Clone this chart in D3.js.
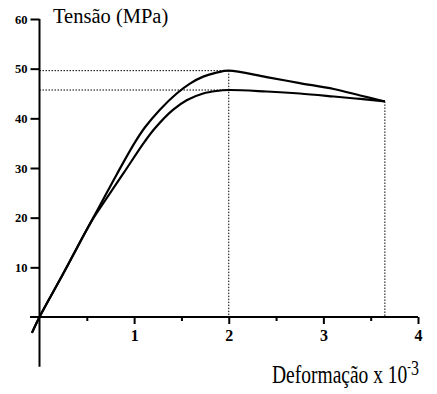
<!DOCTYPE html>
<html>
<head>
<meta charset="utf-8">
<script src="https://cdn.jsdelivr.net/npm/d3@7"></script>
<style>
  body { margin: 0; background: #fff; }
  svg { display: block; }
  svg text { font-family: "Liberation Serif", "Times New Roman", "DejaVu Serif", serif; }
</style>
</head>
<body>
<div id="chart"></div>
<script>
// Strain (x 10^-3) and stress (MPa)
const strainUpper = [-0.08, 0, 0.25, 0.48, 0.64, 0.816, 1.01, 1.115, 1.27, 1.45, 1.59, 1.73, 1.87, 2.0, 2.4, 2.75, 3.11, 3.39, 3.65];
const stressUpper = [-3.2, 0, 8.7, 16.9, 22.5, 28.7, 35.2, 38.2, 41.7, 45.0, 47.0, 48.4, 49.2, 49.6, 48.3, 47.1, 45.9, 44.6, 43.4];

const strainLower = [-0.08, 0, 0.25, 0.48, 0.56, 0.674, 0.886, 1.115, 1.22, 1.41, 1.56, 1.73, 1.87, 2.0, 2.4, 2.75, 3.11, 3.39, 3.65];
const stressLower = [-3.2, 0, 8.7, 16.9, 19.6, 22.9, 28.9, 35.4, 38.0, 41.7, 43.7, 45.0, 45.5, 45.7, 45.4, 45.0, 44.4, 43.9, 43.4];

// Reference (dotted) guide values
const peakStrain = 2.0;
const peakUpper = 49.6;
const peakLower = 45.7;
const endStrain = 3.65;
const endStress = 43.4;

const xTicks = [1, 2, 3, 4];
const xMinorTicks = [0.5, 1.5, 2.5, 3.5];
const yTicks = [10, 20, 30, 40, 50, 60];

const width = 437, height = 394;

const svg = d3.select("#chart")
    .append("svg")
    .attr("width", width)
    .attr("height", height);

// Scales
const x = d3.scaleLinear().domain([0, 4]).range([39.5, 418]);
const y = d3.scaleLinear().domain([0, 60]).range([317, 19]);

const black = "#000";
const serif = "'Liberation Serif', 'Times New Roman', 'DejaVu Serif', serif";

// Dotted guide lines
const guides = svg.append("g")
    .attr("stroke", black)
    .attr("stroke-width", 1)
    .attr("stroke-dasharray", "1.5,1.5")
    .attr("fill", "none");

guides.append("line")
    .attr("x1", x(0)).attr("x2", x(peakStrain))
    .attr("y1", y(peakUpper)).attr("y2", y(peakUpper));
guides.append("line")
    .attr("x1", x(0)).attr("x2", x(peakStrain))
    .attr("y1", y(peakLower)).attr("y2", y(peakLower));
guides.append("line")
    .attr("x1", x(peakStrain)).attr("x2", x(peakStrain))
    .attr("y1", y(peakUpper)).attr("y2", y(0));
guides.append("line")
    .attr("x1", x(endStrain)).attr("x2", x(endStrain))
    .attr("y1", y(endStress)).attr("y2", y(0));

// Axis lines
svg.append("line")
    .attr("x1", x(0)).attr("x2", x(0))
    .attr("y1", y(60)).attr("y2", y(-10))
    .attr("stroke", black).attr("stroke-width", 2);
svg.append("line")
    .attr("x1", x(-0.1)).attr("x2", x(4))
    .attr("y1", y(0)).attr("y2", y(0))
    .attr("stroke", black).attr("stroke-width", 2);

// Y axis ticks
const yAxis = svg.append("g")
    .attr("transform", `translate(${x(0)}, 0)`)
    .call(d3.axisLeft(y).tickValues(yTicks).tickSize(9).tickPadding(3));
yAxis.attr("font-family", serif);
yAxis.select(".domain").remove();
yAxis.selectAll(".tick line").attr("stroke-width", 2);
yAxis.selectAll(".tick text")
    .attr("font-weight", "bold")
    .attr("font-size", "12.5px")
    .attr("fill", black);

// X axis ticks
const xAxis = svg.append("g")
    .attr("transform", `translate(0, ${y(0)})`)
    .call(d3.axisBottom(x).tickValues(xTicks).tickFormat(d3.format("d")).tickSize(7).tickPadding(6));
xAxis.attr("font-family", serif);
xAxis.select(".domain").remove();
xAxis.selectAll(".tick line").attr("stroke-width", 2);
xAxis.selectAll(".tick text")
    .attr("font-weight", "bold")
    .attr("font-size", "16px")
    .attr("fill", black);

const xMinor = svg.append("g")
    .attr("transform", `translate(0, ${y(0)})`)
    .call(d3.axisBottom(x).tickValues(xMinorTicks).tickSize(4).tickFormat(""));
xMinor.select(".domain").remove();
xMinor.selectAll(".tick line").attr("stroke-width", 2);

// Curves
const line = d3.line()
    .x(d => x(d[0]))
    .y(d => y(d[1]))
    .curve(d3.curveCatmullRom.alpha(0.5));

const upper = strainUpper.map((s, i) => [s, stressUpper[i]]);
const lower = strainLower.map((s, i) => [s, stressLower[i]]);

svg.selectAll(".curve")
    .data([upper, lower])
    .enter()
    .append("path")
    .attr("class", "curve")
    .attr("d", line)
    .attr("fill", "none")
    .attr("stroke", black)
    .attr("stroke-width", 2.2);

// Axis titles
svg.append("text")
    .attr("x", 53)
    .attr("y", 22.5)
    .attr("font-family", serif)
    .attr("font-size", "20.5px")
    .attr("fill", black)
    .text("Tensão (MPa)");

const xTitle = svg.append("text")
    .attr("transform", "translate(272, 383) scale(1, 1.3)")
    .attr("font-family", serif)
    .attr("font-size", "19.5px")
    .attr("fill", black);
xTitle.append("tspan").text("Deformação x 10");
xTitle.append("tspan")
    .attr("font-size", "11px")
    .attr("dx", 0)
    .attr("dy", -9)
    .text("-");
xTitle.append("tspan")
    .attr("font-size", "16px")
    .attr("dx", 0)
    .attr("dy", 2.5)
    .text("3");
</script>
</body>
</html>
